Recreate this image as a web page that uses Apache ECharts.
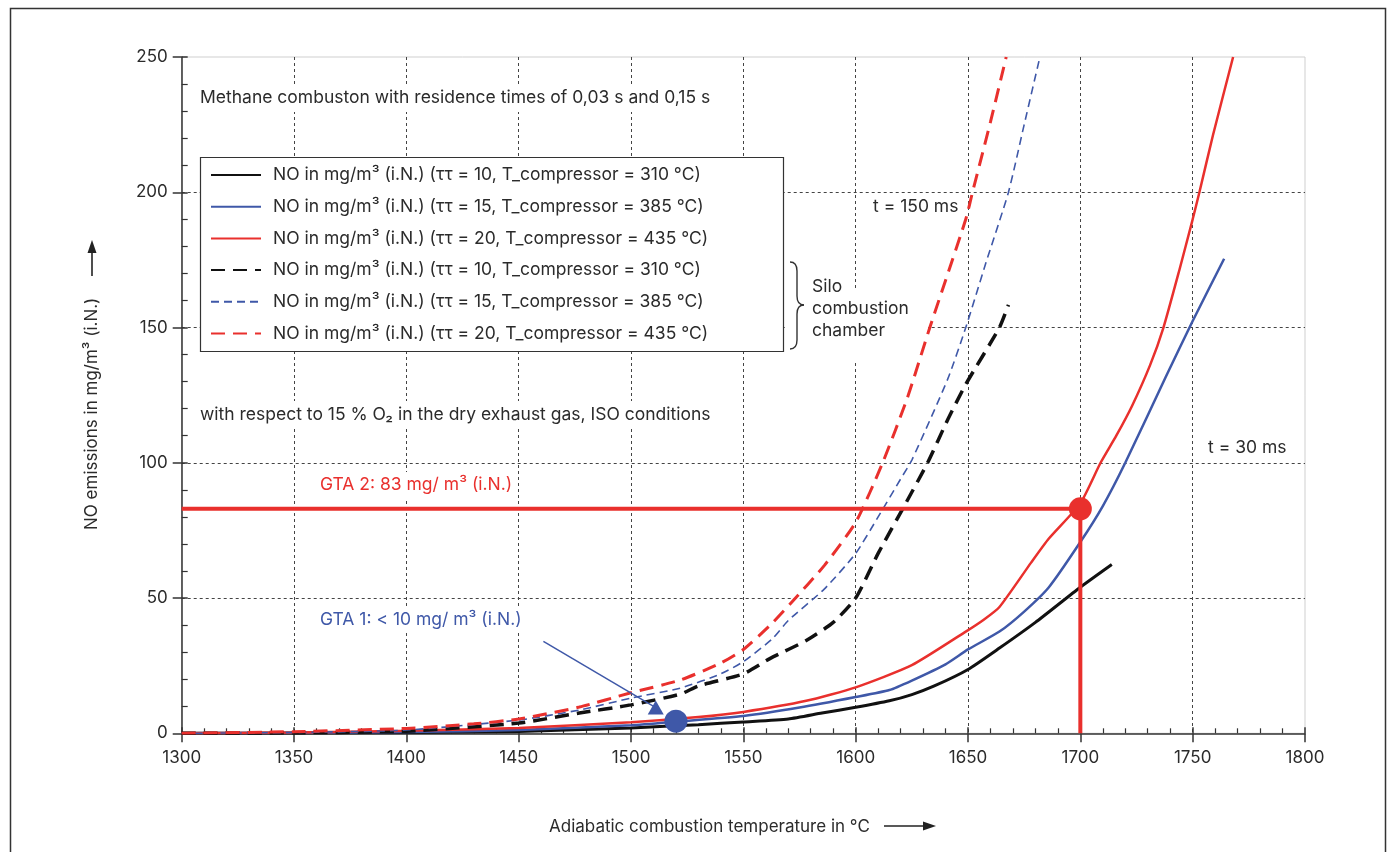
<!DOCTYPE html>
<html>
<head>
<meta charset="utf-8">
<script src="https://cdn.jsdelivr.net/npm/echarts@6/dist/echarts.min.js"></script>
<style>
  html, body { margin: 0; padding: 0; background: #ffffff; }
  #chart { width: 1389px; height: 852px; }
</style>
</head>
<body>
<div id="chart"></div>
<script>
// Axis settings
const xTicks = { min: 1300, max: 1800, interval: 50 };
const yTicks = { min: 0, max: 250, interval: 50 };

// Silo combustion chamber, residence time 150 ms (dashed curves)
const siloPi10Temp = [1300, 1350, 1400, 1450, 1477, 1500, 1522, 1530, 1550, 1562, 1578, 1590, 1600, 1610, 1622, 1632, 1641, 1649, 1664, 1668];
const siloPi10NO   = [0, 0.2, 0.8, 3.8, 7.5, 10.5, 14.5, 17.5, 22, 27.7, 34.3, 41, 50, 66.5, 84.6, 100, 116, 129, 150, 158.4];
const siloPi15Temp = [1300, 1350, 1400, 1450, 1477, 1500, 1522, 1540, 1550, 1563, 1570, 1586, 1600, 1610, 1620, 1625, 1641, 1649, 1658, 1668, 1675, 1682];
const siloPi15NO   = [0, 0.3, 1.2, 4.9, 8.6, 13, 16.7, 22, 26.5, 35, 41.7, 53.3, 66.5, 80, 94, 101, 131, 150, 174, 200, 225, 250];
const siloPi20Temp = [1300, 1350, 1400, 1430, 1450, 1477, 1500, 1522, 1540, 1550, 1562, 1571, 1586, 1600, 1612, 1623, 1633, 1649, 1652, 1660, 1667];
const siloPi20NO   = [0, 0.6, 1.8, 3.5, 5.3, 9.7, 15, 19.7, 26, 31, 40, 48, 62, 78, 100, 124, 150, 190, 200, 226, 250];

// Residence time 30 ms (solid curves)
const fastPi10Temp = [1300, 1350, 1400, 1450, 1500, 1530, 1550, 1570, 1585, 1600, 1615, 1625, 1635, 1650, 1664, 1680, 1700, 1714];
const fastPi10NO   = [0, 0.1, 0.3, 0.7, 2, 3.2, 4.2, 5.3, 7.5, 9.6, 12, 14.3, 17.5, 23.6, 31.5, 41, 54, 62.4];
const fastPi15Temp = [1300, 1350, 1400, 1450, 1500, 1520, 1550, 1575, 1600, 1615, 1625, 1640, 1650, 1664, 1675, 1686, 1700, 1710, 1720, 1738, 1750, 1764];
const fastPi15NO   = [0, 0.2, 0.5, 1.2, 3, 4.3, 6.4, 9.5, 13.4, 16, 19.5, 25.5, 31, 37.6, 45, 54, 70.7, 84, 100, 131.7, 152.4, 175.4];
const fastPi20Temp = [1300, 1350, 1400, 1450, 1500, 1530, 1550, 1578, 1600, 1625, 1649, 1657, 1664, 1678, 1686, 1700, 1709, 1716, 1723, 1731, 1737, 1744, 1750, 1753, 1759, 1768];
const fastPi20NO   = [0, 0.3, 0.9, 2, 4.1, 6, 7.9, 12, 17, 25.2, 37.6, 42, 46.7, 63, 72, 85, 100, 110, 121, 136, 150, 171, 190, 200, 221, 250];

// Operating points of the two gas turbine units
const gta2Temp = 1700, gta2NO = 83;
const gta1Temp = 1520, gta1NO = 4.5;
const gta1ArrowFrom = [1461, 34];
const gta1ArrowTo = [1511, 9.5];

// Series labels
const names = [
  'NO in mg/m³ (i.N.) (ττ = 10, T_compressor = 310 °C)',
  'NO in mg/m³ (i.N.) (ττ = 15, T_compressor = 385 °C)',
  'NO in mg/m³ (i.N.) (ττ = 20, T_compressor = 435 °C)'
];
// dashed entries carry the same wording; a zero-width space keeps them distinct
const siloNames = names.map(n => n + '\u200b');

const RED = '#e9302d';
const BLUE = '#3f58a8';
const BLACK = '#111111';
const FONT = 'Inter';
const FS = 17.5;
const TEXT = '#2b2b2b';

const zip = (xs, ys) => xs.map((x, i) => [x, ys[i]]);

function curve(name, xs, ys, color, width, dash) {
  return {
    type: 'line', name, data: zip(xs, ys),
    xAxisIndex: 0, yAxisIndex: 0,
    symbol: 'none', smooth: 0.2, z: 2,
    lineStyle: { color, width, type: dash || 'solid', cap: 'butt' },
    itemStyle: { color }
  };
}

const chart = echarts.init(document.getElementById('chart'), null, { renderer: 'canvas' });

const gridRect = { left: 181.7, right: 84, top: 57, bottom: 118.7, containLabel: false, outerBoundsMode: 'none' };

const dotted = { show: true, showMinLine: false, showMaxLine: false, lineStyle: { color: '#444', width: 1, type: [3, 3] } };

const brace = { fill: 'none', stroke: '#333', lineWidth: 1.4 };
const plain = v => String(v);

const option = {
  animation: false,
  backgroundColor: '#ffffff',
  textStyle: { fontFamily: FONT },
  grid: [
    Object.assign({ show: true, borderColor: '#cfcfcf', borderWidth: 1, backgroundColor: 'transparent' }, gridRect),
    Object.assign({ show: false }, gridRect)
  ],
  xAxis: [
    {
      type: 'value', gridIndex: 0, position: 'bottom',
      min: xTicks.min, max: xTicks.max, interval: xTicks.interval,
      axisLine: { show: true, lineStyle: { color: '#333', width: 1.5 } },
      axisTick: { show: true, inside: true, length: 6, lineStyle: { color: '#333', width: 1.5 } },
      minorTick: { show: true, splitNumber: 5, length: 5, lineStyle: { color: '#333', width: 1.2 } },
      axisLabel: { show: true, margin: 16, color: TEXT, fontSize: 17, fontFamily: FONT, formatter: plain },
      splitLine: dotted
    },
    {
      type: 'value', gridIndex: 1, position: 'bottom',
      min: xTicks.min, max: xTicks.max, interval: xTicks.interval,
      axisLine: { show: false },
      axisTick: { show: true, inside: false, length: 9, lineStyle: { color: '#333', width: 1.5 } },
      axisLabel: { show: false },
      splitLine: { show: false }
    }
  ],
  yAxis: [
    {
      type: 'value', gridIndex: 0, position: 'left',
      min: yTicks.min, max: yTicks.max, interval: yTicks.interval,
      axisLine: { show: true, lineStyle: { color: '#333', width: 1.5 } },
      axisTick: { show: true, inside: true, length: 6, lineStyle: { color: '#333', width: 1.5 } },
      minorTick: { show: true, splitNumber: 5, length: 6, lineStyle: { color: '#333', width: 1.2 } },
      axisLabel: { show: true, margin: 14, color: TEXT, fontSize: 17, fontFamily: FONT, formatter: plain },
      splitLine: dotted
    },
    {
      type: 'value', gridIndex: 1, position: 'left',
      min: yTicks.min, max: yTicks.max, interval: yTicks.interval,
      axisLine: { show: false },
      axisTick: { show: true, inside: false, length: 9, lineStyle: { color: '#333', width: 1.5 } },
      axisLabel: { show: false },
      splitLine: { show: false }
    }
  ],
  legend: {
    show: true, orient: 'vertical', left: 200, top: 157,
    padding: [8, 10, 7, 10],
    itemWidth: 50, itemHeight: 14, itemGap: 11.7,
    selectedMode: false, z: 4,
    itemStyle: { opacity: 0 },
    data: [names[0], names[1], names[2], siloNames[0], siloNames[1], siloNames[2]],
    textStyle: { color: TEXT, fontSize: FS, fontFamily: FONT, lineHeight: 20, padding: [0, 0, 0, 7] }
  },
  series: [
    curve(names[0], fastPi10Temp, fastPi10NO, BLACK, 3),
    curve(names[1], fastPi15Temp, fastPi15NO, BLUE, 2.5),
    curve(names[2], fastPi20Temp, fastPi20NO, RED, 2.5),
    curve(siloNames[0], siloPi10Temp, siloPi10NO, BLACK, 3.5, [14, 8]),
    curve(siloNames[1], siloPi15Temp, siloPi15NO, BLUE, 1.6, [8, 5]),
    curve(siloNames[2], siloPi20Temp, siloPi20NO, RED, 3, [14, 8]),
    {
      // GTA 2 reference lines
      type: 'line', name: 'gta2-lines', symbol: 'none', z: 3,
      data: [[xTicks.min, gta2NO], [gta2Temp, gta2NO], [gta2Temp, yTicks.min]],
      lineStyle: { color: RED, width: 4 }, itemStyle: { color: RED }
    },
    {
      type: 'scatter', name: 'gta2-point', symbol: 'circle', symbolSize: 23, z: 4,
      data: [[gta2Temp, gta2NO]], itemStyle: { color: RED, opacity: 1 }
    },
    {
      // GTA 1 pointer
      type: 'line', name: 'gta1-arrow', symbol: 'none', z: 3,
      data: [gta1ArrowFrom, gta1ArrowTo],
      lineStyle: { color: BLUE, width: 1.5 }, itemStyle: { color: BLUE }
    },
    {
      type: 'scatter', name: 'gta1-arrowhead', symbol: 'triangle', symbolSize: [16, 14], z: 4,
      data: [gta1ArrowTo], itemStyle: { color: BLUE, opacity: 1 }
    },
    {
      type: 'scatter', name: 'gta1-point', symbol: 'circle', symbolSize: 23, z: 4,
      data: [[gta1Temp, gta1NO]], itemStyle: { color: BLUE, opacity: 1 }
    }
  ],
  graphic: [
    // outer frame
    { type: 'rect', z: 10, silent: true, shape: { x: 10.5, y: 8.5, width: 1375, height: 860 },
      style: { fill: 'none', stroke: '#333', lineWidth: 1.5 } },
    // legend box
    { type: 'rect', z: 3, silent: true, shape: { x: 200.5, y: 157.5, width: 583, height: 194 },
      style: { fill: '#ffffff', stroke: '#333', lineWidth: 1.2 } },
    // white area behind the chamber note
    { type: 'rect', z: 1, silent: true, shape: { x: 786, y: 288, width: 142, height: 74 },
      style: { fill: '#ffffff' } },
    // brace
    { type: 'bezierCurve', z: 5, silent: true, shape: { x1: 790, y1: 262, cpx1: 797, cpy1: 262, x2: 797, y2: 271 }, style: brace },
    { type: 'line', z: 5, silent: true, shape: { x1: 797, y1: 271, x2: 797, y2: 296 }, style: brace },
    { type: 'bezierCurve', z: 5, silent: true, shape: { x1: 797, y1: 296, cpx1: 797, cpy1: 305, x2: 804, y2: 305 }, style: brace },
    { type: 'bezierCurve', z: 5, silent: true, shape: { x1: 804, y1: 305, cpx1: 797, cpy1: 305, x2: 797, y2: 314 }, style: brace },
    { type: 'line', z: 5, silent: true, shape: { x1: 797, y1: 314, x2: 797, y2: 340 }, style: brace },
    { type: 'bezierCurve', z: 5, silent: true, shape: { x1: 797, y1: 340, cpx1: 797, cpy1: 349, x2: 790, y2: 349 }, style: brace },
    { type: 'text', z: 5, silent: true, x: 812, y: 287,
      style: { text: 'Silo', fontSize: FS, fontFamily: FONT, fill: TEXT, verticalAlign: 'middle' } },
    { type: 'text', z: 5, silent: true, x: 812, y: 309,
      style: { text: 'combustion', fontSize: FS, fontFamily: FONT, fill: TEXT, verticalAlign: 'middle' } },
    { type: 'text', z: 5, silent: true, x: 812, y: 331,
      style: { text: 'chamber', fontSize: FS, fontFamily: FONT, fill: TEXT, verticalAlign: 'middle' } },
    // notes inside the plot
    { type: 'text', z: 1, silent: true, x: 200, y: 98,
      style: { text: 'Methane combuston with residence times of 0,03 s and 0,15 s', fontSize: FS, fontFamily: FONT, fill: TEXT,
        verticalAlign: 'middle', backgroundColor: '#ffffff', padding: [5, 4, 5, 0] } },
    { type: 'text', z: 1, silent: true, x: 200, y: 415,
      style: { text: 'with respect to 15 % O₂ in the dry exhaust gas, ISO conditions', fontSize: FS, fontFamily: FONT, fill: TEXT,
        verticalAlign: 'middle', backgroundColor: '#ffffff', padding: [5, 4, 5, 0] } },
    { type: 'text', z: 1, silent: true, x: 870, y: 207,
      style: { text: 't = 150 ms', fontSize: FS, fontFamily: FONT, fill: TEXT,
        verticalAlign: 'middle', backgroundColor: '#ffffff', padding: [3, 3, 3, 3] } },
    { type: 'text', z: 1, silent: true, x: 1205, y: 448,
      style: { text: 't = 30 ms', fontSize: FS, fontFamily: FONT, fill: TEXT,
        verticalAlign: 'middle', backgroundColor: '#ffffff', padding: [3, 3, 3, 3] } },
    { type: 'text', z: 1, silent: true, x: 316, y: 485,
      style: { text: 'GTA 2: 83 mg/ m³ (i.N.)', fontSize: FS, fontFamily: FONT, fill: RED,
        verticalAlign: 'middle', backgroundColor: '#ffffff', padding: [4, 4, 4, 4] } },
    { type: 'text', z: 1, silent: true, x: 316, y: 620,
      style: { text: 'GTA 1: < 10 mg/ m³ (i.N.)', fontSize: FS, fontFamily: FONT, fill: BLUE,
        verticalAlign: 'middle', backgroundColor: '#ffffff', padding: [4, 4, 4, 4] } },
    // axis titles
    { type: 'text', z: 5, silent: true, x: 549, y: 827,
      style: { text: 'Adiabatic combustion temperature in °C', fontSize: 17, fontFamily: FONT, fill: TEXT, verticalAlign: 'middle' } },
    { type: 'line', z: 5, silent: true, shape: { x1: 884, y1: 826, x2: 926, y2: 826 },
      style: { stroke: '#222', lineWidth: 1.6 } },
    { type: 'polygon', z: 5, silent: true, shape: { points: [[936, 826], [923, 821.5], [923, 830.5]] },
      style: { fill: '#222' } },
    { type: 'text', z: 5, silent: true, x: 92, y: 530, rotation: Math.PI / 2,
      style: { text: 'NO emissions in mg/m³ (i.N.)', fontSize: 17, fontFamily: FONT, fill: TEXT, align: 'left', verticalAlign: 'middle' } },
    { type: 'line', z: 5, silent: true, shape: { x1: 92, y1: 276, x2: 92, y2: 250 },
      style: { stroke: '#222', lineWidth: 1.6 } },
    { type: 'polygon', z: 5, silent: true, shape: { points: [[92, 240], [87.5, 253], [96.5, 253]] },
      style: { fill: '#222' } }
  ]
};

chart.setOption(option);
</script>
</body>
</html>
